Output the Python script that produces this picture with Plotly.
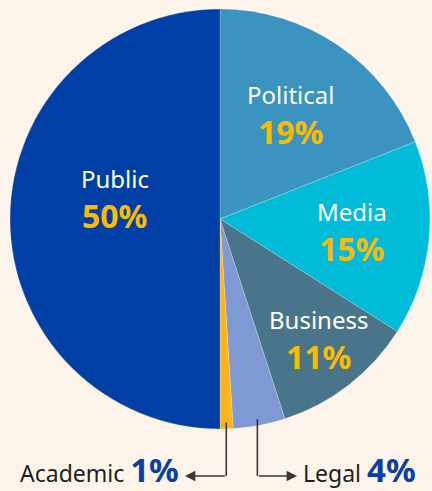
import math
import plotly.graph_objects as go

# ---- data ----
categories = ["Political", "Media", "Business", "Legal", "Academic", "Public"]
values = [19, 15, 11, 4, 1, 50]
colors = ["#3a94bf", "#00bcd9", "#4a7489", "#7f99d4", "#fbb520", "#003fa5"]
inside_labels = ["Political", "Media", "Business", "Public"]
outside_labels = ["Academic", "Legal"]

# ---- layout constants ----
W, H = 432, 491
CX, CY, R = 220, 219, 210
BG = "#fdf5eb"
FONT = "Noto Sans"
ORANGE = "#fbbb00"
BLUE = "#0a3fa5"
DARK = "#231f20"

# radial fraction / angle tweak for inside labels
label_geo = {"Political": (0.60, 0), "Media": (0.63, 0),
             "Business": (0.74, -1.5), "Public": (0.51, 11)}

fig = go.Figure()
fig.add_trace(go.Pie(
    labels=categories, values=values, sort=False, direction="clockwise",
    rotation=0, marker=dict(colors=colors, line=dict(width=0.6, color="rgba(255,255,255,0.35)")),
    textinfo="none", hoverinfo="label+percent", showlegend=False,
    domain=dict(x=[(CX - R) / W, (CX + R) / W], y=[1 - (CY + R) / H, 1 - (CY - R) / H]),
))

# hidden pixel axis for annotations
fig.update_xaxes(range=[0, W], visible=False, fixedrange=True, domain=[0, 1])
fig.update_yaxes(range=[H, 0], visible=False, fixedrange=True, domain=[0, 1])

total = sum(values)
cum = 0
mid = {}
for c, v in zip(categories, values):
    mid[c] = (cum + v / 2) / total * 360
    cum += v

annotations = []
for c in inside_labels:
    f, da = label_geo[c]
    a = math.radians(mid[c] + da)
    x = CX + f * R * math.sin(a)
    y = CY - f * R * math.cos(a)
    pct = values[categories.index(c)]
    annotations.append(dict(x=x, y=y - 20, xref="x", yref="y", text=c, showarrow=False,
                            font=dict(family=FONT, size=24, color="white")))
    annotations.append(dict(x=x, y=y + 17, xref="x", yref="y", text=f"<b>{pct}%</b>", showarrow=False,
                            font=dict(family=FONT, size=32, color=ORANGE)))

shapes = []
LINE_Y = 476
tips = {"Academic": (185, "right"), "Legal": (297, "left")}
for c in outside_labels:
    a = math.radians(mid[c])
    xa = CX + 0.95 * R * math.sin(a)
    ya = CY - 0.97 * R * math.cos(a)
    shapes.append(dict(type="line", xref="x", yref="y", x0=xa, x1=xa, y0=ya, y1=LINE_Y,
                       line=dict(color="#3a3634", width=1.6)))
    tip, side = tips[c]
    annotations.append(dict(x=tip, y=LINE_Y, ax=xa, ay=LINE_Y, xref="x", yref="y",
                            axref="x", ayref="y", text="", showarrow=True,
                            arrowhead=2, arrowsize=1.3, arrowwidth=1.6, arrowcolor="#3a3634"))
    pct = values[categories.index(c)]
    txt = f"{c} <span style='font-size:33px;color:{BLUE}'><b>{pct}%</b></span>"
    annotations.append(dict(x=tip - 4 if side == "right" else tip + 4, y=LINE_Y - 7,
                            xref="x", yref="y", text=txt, showarrow=False,
                            xanchor=side, yanchor="middle",
                            font=dict(family=FONT, size=23, color=DARK)))

fig.update_layout(
    width=W, height=H, margin=dict(l=0, r=0, t=0, b=0),
    paper_bgcolor=BG, plot_bgcolor=BG,
    annotations=annotations, shapes=shapes,
)

fig.write_html("out.html", config={"displayModeBar": False},
               post_script="document.body.style.margin='0';document.body.style.overflow='hidden';document.body.style.background='" + BG + "';")
